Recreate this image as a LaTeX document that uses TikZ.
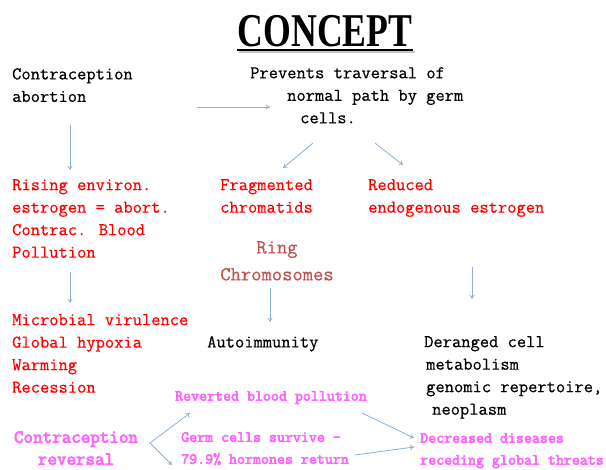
\documentclass[tikz,border=0pt]{standalone}
\usepackage{fontspec}
\setmainfont{Latin Modern Mono}[FakeBold=0.5]
\newfontfamily\titlefont{Liberation Serif}
\newfontfamily\pinkfont{Latin Modern Mono}[FakeBold=4]
\usepackage{xcolor}
\usetikzlibrary{arrows.meta, positioning}
\definecolor{linkblue}{RGB}{140,176,214}
\definecolor{ringred}{RGB}{192,80,77}
\definecolor{pinky}{RGB}{255,102,255}

\begin{document}
\begin{tikzpicture}[x=1pt, y=-1pt]
\tikzstyle{txt} = [anchor=north west, inner sep=0pt, align=left, font=\fontsize{18}{22.5}\selectfont]
\tikzstyle{hot} = [txt, text=red]
\tikzstyle{pink} = [txt, text=pinky, font=\pinkfont\fontsize{15.5}{22}\selectfont]
\tikzstyle{link} = [draw=linkblue, line width=0.8pt, -{To[length=4pt, width=5pt]}]

\useasboundingbox (0,0) rectangle (606,470);

% title
\node (title) at (325,31) {\scalebox{0.76}[1]{\titlefont\bfseries\fontsize{47}{47}\selectfont CONCEPT}};
\draw [gray!45, line width=1.8pt] (239,52) -- (415,52);
\draw [line width=1.8pt] (237,50) -- (413,50);

% first row
\node (contra) [txt] at (12,68) {Contraception\\abortion};
\node (prevents) [txt] at (250,67) {Prevents traversal of\\\hspace*{37pt}normal path by germ\\\hspace*{50pt}cells.};

% second row
\node (rising) [hot] at (12,179) {Rising environ.\\estrogen = abort.\\Contrac. Blood\\Pollution};
\node (fragment) [hot] at (220,179) {Fragmented\\chromatids};
\node (reduced) [hot] at (368,179) {Reduced\\endogenous estrogen};
\node (ring) [anchor=north, inner sep=0pt, align=center, text=ringred, font=\fontsize{20}{27}\selectfont] at (277,241) {Ring\\Chromosomes};

% third row
\node (microbial) [hot] at (12,314) {Microbial virulence\\Global hypoxia\\Warming\\Recession};
\node (autoimm) [txt] at (207,336) {Autoimmunity};
\node (deranged) [txt] at (424,336) {Deranged cell\\\hspace*{2pt}metabolism\\\hspace*{2pt}genomic repertoire,\\\hspace*{8pt}neoplasm};

% reversal
\node (reverted) [pink] at (175,391) {Reverted blood pollution};
\node (reversal) [pink, anchor=north, align=center, font=\pinkfont\fontsize{18.5}{22}\selectfont] at (76,431) {Contraception\\reversal};
\node (germ) [pink] at (181,432) {Germ cells survive \textendash\\79.9\% hormones return};
\node (decreased) [pink] at (420,433) {Decreased diseases\\receding global threats};

% connector ends
\coordinate (c1) at (197,107);  \coordinate (c2) at (270,107);
\coordinate (c3) at (70,125);   \coordinate (c4) at (70,170);
\coordinate (c5) at (313,143);  \coordinate (c6) at (283,168);
\coordinate (c7) at (375,143);  \coordinate (c8) at (403,165);
\coordinate (c9) at (70,272);   \coordinate (c10) at (70,303);
\coordinate (c11) at (270,288); \coordinate (c12) at (270,322);
\coordinate (c13) at (472,267); \coordinate (c14) at (472,299);
\coordinate (c15) at (150,443); \coordinate (c16) at (190,413);
\coordinate (c17) at (172,465);
\coordinate (c18) at (362,413); \coordinate (c19) at (414,438);
\coordinate (c20) at (355,455); \coordinate (c21) at (414,447);

\foreach \s/\e in {c1/c2, c3/c4, c5/c6, c7/c8, c9/c10, c11/c12, c13/c14, c15/c16, c15/c17, c18/c19, c20/c21}
  \draw [link] (\s) -- (\e);

\end{tikzpicture}
\end{document}
